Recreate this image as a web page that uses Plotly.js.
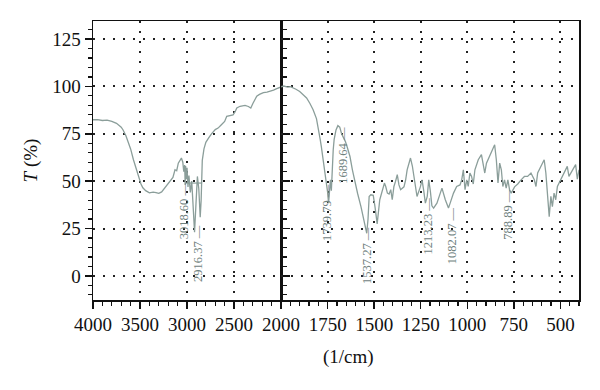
<!DOCTYPE html>
<html>
<head>
<meta charset="utf-8">
<script src="https://cdn.plot.ly/plotly-3.0.1.min.js"></script>
<style>html,body{margin:0;padding:0;background:#fff;}#chart{width:600px;height:390px;}</style>
</head>
<body>
<div id="chart"></div>
<script>
// High wavenumber region (4000 -> 2000 cm-1)
const wnHigh = [4000,3950,3900,3850,3800,3750,3700,3680,3650,3600,3570,3540,3518,3490,3470,3440,3400,3360,3330,3300,3270,3250,3220,3180,3150,3128,3110,3093,3060,3045,3035,3025,3020,3015,3008,3000,2990,2980,2965,2950,2935,2920,2905,2890,2875,2860,2850,2838,2820,2800,2770,2740,2700,2670,2640,2600,2578,2540,2511,2490,2471,2436,2410,2383,2348,2322,2300,2259,2230,2188,2150,2117,2080,2046,2020,2000];
const tHigh  = [82.4,82.5,82.0,82.2,81.5,80.5,78.5,77.0,74.0,67.0,61.3,56.0,52.5,48.5,46.5,45.0,43.8,44.2,44.0,43.6,44.3,45.5,47.2,49.8,52.0,56.0,55.5,59.5,62.2,60.0,55.0,58.5,48.0,58.0,51.0,57.0,47.0,53.0,44.0,50.0,35.0,23.0,38.0,52.5,46.0,31.0,40.0,61.0,67.0,70.5,72.8,75.0,77.2,78.0,79.5,81.5,84.2,84.6,85.0,86.5,88.6,89.5,89.7,90.0,89.4,88.6,91.0,94.8,95.8,96.7,97.0,97.4,98.0,98.8,99.3,99.7];

// Fingerprint region (2000 -> 400 cm-1)
const wnLow = [2000,1985,1965,1950,1920,1900,1880,1863,1845,1828,1810,1801,1790,1784,1775,1766,1757,1750,1745,1740,1735,1730,1725,1720,1715,1705,1695,1685,1675,1665,1655,1645,1630,1617,1600,1589,1571,1553,1540,1533,1527,1518,1505,1495,1484,1470,1456,1445,1438,1429,1420,1411,1403,1394,1385,1376,1367,1358,1340,1331,1323,1305,1295,1287,1278,1270,1252,1243,1234,1225,1215,1207,1198,1190,1181,1163,1145,1136,1118,1101,1092,1074,1057,1039,1030,1021,1012,1003,995,986,977,968,959,941,924,915,906,897,888,871,853,844,835,826,817,809,800,791,782,773,764,746,729,711,693,676,658,640,631,622,605,587,578,569,560,551,543,534,525,516,498,480,463,454,436,418,409,400];
const tLow  = [99.7,100.2,99.6,99.8,98.5,97.3,95.5,93.9,91.0,87.7,83.0,78.9,72.0,68.3,62.0,57.8,50.7,44.0,38.4,47.0,50.7,45.0,58.0,66.6,72.0,77.0,79.3,78.5,75.0,73.0,71.0,68.0,63.0,56.0,48.0,43.5,36.6,27.8,22.5,30.0,41.9,42.8,42.5,36.0,27.5,40.2,45.5,49.0,47.2,43.7,43.2,45.5,40.2,47.2,50.0,53.4,48.0,45.5,47.0,50.7,56.0,62.2,58.0,52.5,45.5,41.9,47.0,50.7,45.0,38.4,42.0,50.7,44.5,37.0,35.8,38.4,43.7,46.3,40.2,35.8,38.4,43.7,47.2,48.0,50.7,56.0,45.5,50.7,47.2,54.3,52.5,48.5,56.0,61.3,64.0,58.0,54.3,59.5,61.3,64.8,69.2,61.3,49.0,59.5,56.0,47.2,50.7,46.3,50.7,45.5,43.7,47.0,48.5,50.7,52.5,52.5,54.3,50.7,47.2,54.3,57.8,61.3,54.3,40.2,31.3,42.0,36.6,43.7,40.2,47.2,50.7,54.3,57.8,52.5,56.0,58.7,51.0,56.0];

// Peak labels
const peakLabels = ["3018.60","2916.37","1739.79","1689.64","1537.27","1213.23","1082.07","788.89"];
const peakLabelX = [3037,2883,1753,1667,1538,1210,1081,782];
const peakLabelY = [34.4,11.6,33.3,63.4,10.6,26.2,21.1,32.8];
const peakAxis   = ["x","x","x2","x2","x2","x2","x2","x2"];

// Peak-picking threshold segment
const threshX = [3021,2840];
const threshY = [49,49];

const yTicks = [0,25,50,75,100,125];
const xTicksHigh = [4000,3500,3000,2500,2000];
const xTicksLow = [1750,1500,1250,1000,750,500];

const lineColor = '#8b9e9a';
const labelColor = '#6f817e';
const tickFont = {family:'Liberation Serif, serif', size:19, color:'#111'};

const minorHigh = []; for (let v=4000; v>=2000; v-=100) minorHigh.push(v);
const minorLow = []; for (let v=2000; v>=400; v-=50) minorLow.push(v);

const traces = [
  {x: wnHigh, y: tHigh, xaxis:'x', yaxis:'y', type:'scatter', mode:'lines',
   line:{color:lineColor, width:1.3}, hoverinfo:'skip'},
  {x: wnLow, y: tLow, xaxis:'x2', yaxis:'y', type:'scatter', mode:'lines',
   line:{color:lineColor, width:1.3}, hoverinfo:'skip'}
];

const gridStyle = {showgrid:true, gridcolor:'#222', gridwidth:2, griddash:'2px,8px'};

const xCommon = Object.assign({
  anchor:'y', ticks:'outside', ticklen:7, tickwidth:1.5, tickcolor:'#111',
  showline:true, linecolor:'#111', linewidth:1.5, mirror:true, zeroline:false,
  tickfont:tickFont, tickmode:'array'
}, gridStyle);

const layout = {
  width:600, height:390,
  margin:{l:93, r:21, t:21, b:90},
  paper_bgcolor:'#fff', plot_bgcolor:'#fff',
  showlegend:false,
  xaxis: Object.assign({}, xCommon, {
    domain:[0,0.387], range:[4000,2000], tickvals:xTicksHigh,
    minor:{tickmode:'array', tickvals:minorHigh, ticks:'outside', ticklen:4, tickwidth:1.2, tickcolor:'#111', showgrid:false}
  }),
  xaxis2: Object.assign({}, xCommon, {
    domain:[0.387,1], range:[2000,400], tickvals:xTicksLow,
    minor:{tickmode:'array', tickvals:minorLow, ticks:'outside', ticklen:4, tickwidth:1.2, tickcolor:'#111', showgrid:false}
  }),
  yaxis: Object.assign({
    anchor:'x', range:[-12.7,134.5], tickmode:'array', tickvals:yTicks,
    ticks:'outside', ticklen:7, tickwidth:1.5, tickcolor:'#111',
    minor:{tickmode:'linear', tick0:0, dtick:5, ticks:'outside', ticklen:4, tickwidth:1.2, tickcolor:'#111', showgrid:false},
    showline:true, linecolor:'#111', linewidth:1.5, mirror:'all', zeroline:false,
    tickfont:tickFont,
    title:{text:'<i>T</i> (%)', font:{family:'Liberation Serif, serif', size:19, color:'#111'}, standoff:9}
  }, gridStyle),
  annotations: [],
  shapes: [
    {type:'line', xref:'x', yref:'y', x0:threshX[0], x1:threshX[1], y0:threshY[0], y1:threshY[1],
     line:{color:lineColor, width:1.2}}
  ]
};

for (let i=0;i<peakLabels.length;i++) {
  layout.annotations.push({
    text: peakLabels[i] + ' —', xref:peakAxis[i], yref:'y', x:peakLabelX[i], y:peakLabelY[i],
    textangle:-90, showarrow:false, xanchor:'center', yanchor:'middle',
    font:{family:'Liberation Serif, serif', size:12.5, color:labelColor}
  });
}
layout.annotations.push({
  text:'(1/cm)', xref:'paper', yref:'paper', x:0.525, y:-0.204, showarrow:false,
  xanchor:'center', yanchor:'middle', font:{family:'Liberation Serif, serif', size:19, color:'#111'}
});

Plotly.newPlot('chart', traces, layout, {staticPlot:true, displayModeBar:false});
</script>
</body>
</html>
